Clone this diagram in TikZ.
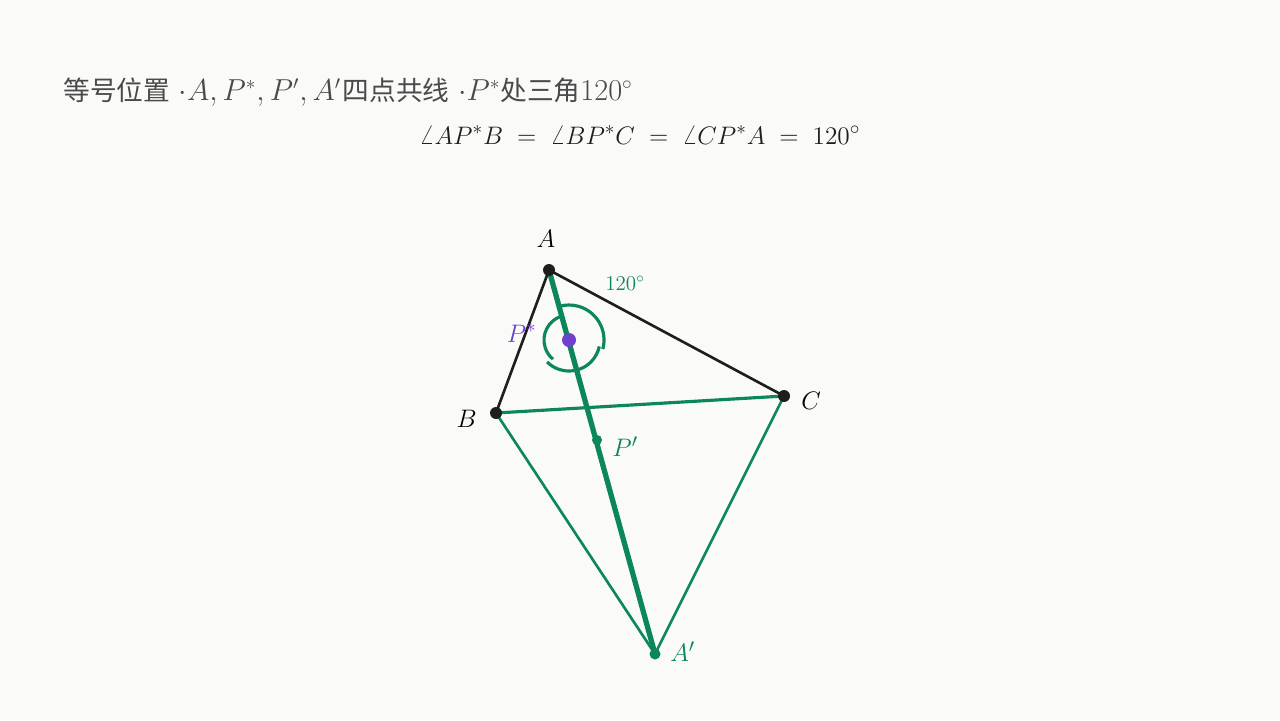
\documentclass[tikz,border=0pt]{standalone}
\usepackage{fontspec}
\newfontfamily\cjk[Scale=0.95]{Noto Sans CJK SC}
\usetikzlibrary{positioning, calc}

\definecolor{bgcol}{HTML}{FAFAF8}
\definecolor{fgreen}{HTML}{0B875B}
\definecolor{fpurple}{HTML}{6E42CC}
\definecolor{titlegray}{HTML}{4A4A4A}
\definecolor{inkblack}{HTML}{1E1E1E}

\tikzset{
  blackdot/.style = {circle, fill=inkblack, inner sep=0pt, minimum size=2.4mm},
  greendot/.style = {circle, fill=fgreen, inner sep=0pt, minimum size=2.2mm},
  ptlabel/.style  = {inner sep=0pt, font=\fontsize{15}{18}\selectfont},
  edge/.style     = {draw=inkblack, line width=1.5pt},
  gline/.style    = {draw=fgreen, line width=1.5pt},
  anglearc/.style = {draw=fgreen, line width=1.8pt},
}

\begin{document}
\begin{tikzpicture}[x=0.02cm, y=-0.02cm, node distance=4mm]
  \fill[bgcol] (0,0) rectangle (1280,720);
  \useasboundingbox (0,0) rectangle (1280,720);

  % title lines
  \node[anchor=west, inner sep=0pt, text=titlegray, font=\fontsize{16}{19}\selectfont] (title) at (63,92)
    {{\cjk 等号位置} $\cdot A, P^*, P', A'$\kern1pt{\cjk 四点共线} $\cdot P^*${\cjk 处三角}$120^\circ$};
  \node[inner sep=0pt, text=inkblack, font=\fontsize{15}{18}\selectfont] (eqline) at (640,135)
    {$\angle AP^*B \;=\; \angle BP^*C \;=\; \angle CP^*A \;=\; 120^\circ$};

  % points
  \coordinate (A)  at (549,270);
  \coordinate (B)  at (496,413);
  \coordinate (C)  at (784,396);
  \coordinate (Ps) at (569,340);
  \coordinate (Pp) at (597,440);
  \coordinate (Ap) at (655,654);

  % sides and construction
  \draw[edge] (A) -- (B);
  \draw[edge] (A) -- (C);
  \draw[gline] (B) -- (Ap);
  \draw[gline] (C) -- (Ap);
  \draw[gline, line width=1.8pt] (B) -- (C);
  \draw[draw=fgreen, line width=3pt] (A) -- (Ap);

  % the three 120 degree angles at P*
  \draw[anglearc] (Ps) ++(15:35) arc[start angle=15, end angle=-106, radius=35];
  \draw[anglearc] (Ps) ++(-108:25) arc[start angle=-108, end angle=-230, radius=25];
  \draw[anglearc] (Ps) ++(135:31) arc[start angle=135, end angle=12, radius=31];
  \node[inner sep=0pt, text=fgreen, font=\fontsize{11.5}{14}\selectfont] (deg) at (625,283) {$120^\circ$};

  % dots
  \node[blackdot] (Adot) at (A) {};
  \node[blackdot] (Bdot) at (B) {};
  \node[blackdot] (Cdot) at (C) {};
  \node[circle, fill=fpurple, inner sep=0pt, minimum size=2.8mm] (Psdot) at (Ps) {};
  \node[greendot, minimum size=2mm] (Ppdot) at (Pp) {};
  \node[greendot] (Apdot) at (Ap) {};

  % labels
  \node[ptlabel, above=4.4mm of A, xshift=-0.6mm] (Alab) {$A$};
  \node[ptlabel, left=3.8mm of B, yshift=-1.2mm] (Blab) {$B$};
  \node[ptlabel, right=3.4mm of C, yshift=-1mm] (Clab) {$C$};
  \node[ptlabel, text=fpurple, left=6.4mm of Ps, yshift=1.4mm] (Pslab) {$P^*$};
  \node[ptlabel, text=fgreen, right=3mm of Pp, yshift=-1.4mm] (Pplab) {$P'$};
  \node[ptlabel, text=fgreen, right=3mm of Ap, yshift=0.4mm] (Aplab) {$A'$};
\end{tikzpicture}
\end{document}
